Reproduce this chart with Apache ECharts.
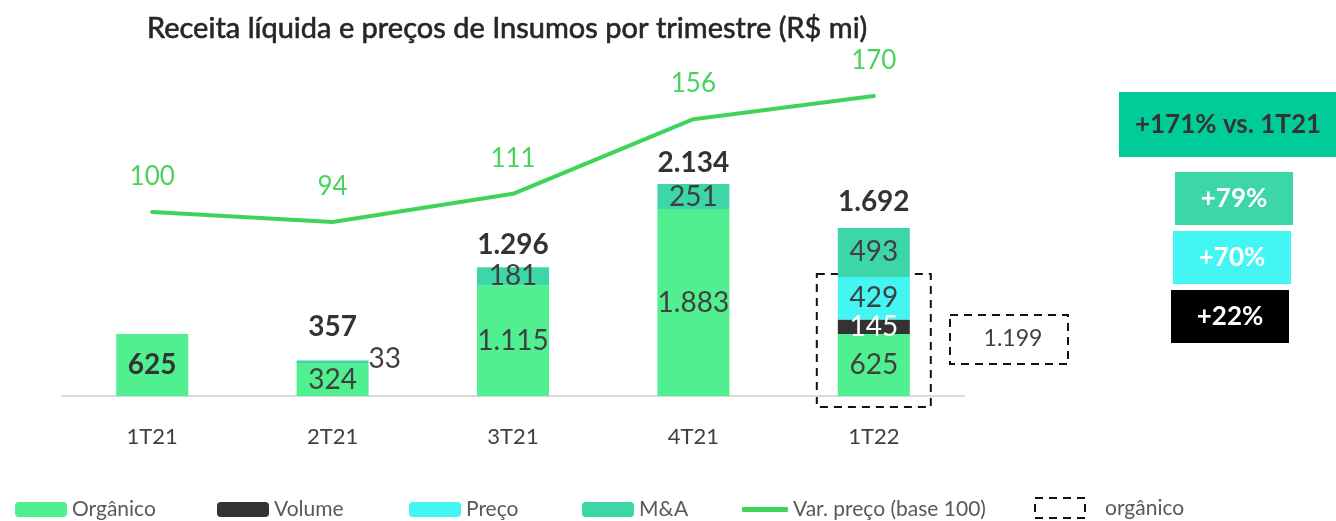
<!DOCTYPE html>
<html>
<head>
<meta charset="utf-8">
<script src="https://cdn.jsdelivr.net/npm/echarts@6/dist/echarts.min.js"></script>
<style>
  html, body { margin: 0; padding: 0; background: #fff; }
  #main { width: 1336px; height: 521px; }
</style>
</head>
<body>
<div id="main"></div>
<script>
const categories = ['1T21', '2T21', '3T21', '4T21', '1T22'];
const organico = [625, 324, 1115, 1883, 625];
const volume = [0, 0, 0, 0, 145];
const preco = [0, 0, 0, 0, 429];
const ma = [0, 33, 181, 251, 493];
const totais = [null, 357, 1296, 2134, 1692];
const varPreco = [100, 94, 111, 156, 170];
const organicoTotal = 1199;

const FONT = 'Lato, "Open Sans", sans-serif';
const C_ORG = '#50ef8f';
const C_VOL = '#333333';
const C_PRE = '#44f6f3';
const C_MA = '#3cd6a8';
const C_LINE = '#3fd35a';

const fmt = v => String(v).replace(/\B(?=(\d{3})+(?!\d))/g, '.');

const chart = echarts.init(document.getElementById('main'));

const segLabel = (color, extra) => Object.assign({
    show: true,
    position: 'inside',
    fontFamily: FONT,
    fontSize: 28,
    color: color || '#404040',
    formatter: p => p.value ? fmt(p.value) : ''
}, extra || {});

const orgData = organico.map((v, i) => i === 0
    ? { value: v, label: { fontWeight: 'bold', color: '#333' } }
    : v);
const maData = ma.map((v, i) => i === 1
    ? { value: v, label: { position: 'right', distance: 0, offset: [0, -3] } }
    : v);
const totalDist = [0, 20, 8, 7, 12];
const totalData = totais.map((v, i) => ({ value: v, label: { distance: totalDist[i] } }));

const legendText = { fontFamily: FONT, fontSize: 21, color: '#595959' };
const mkLegend = (name, left, w, h, icon) => ({
    data: [icon ? { name: name, icon: icon } : name],
    left: left, top: 494, itemWidth: w || 52, itemHeight: h || 15,
    itemGap: 0, textStyle: legendText, selectedMode: false
});

const option = {
    animation: false,
    title: {
        text: 'Receita líquida e preços de Insumos por trimestre (R$ mi)',
        left: 142, top: 9,
        textStyle: { fontFamily: FONT, fontSize: 29, fontWeight: 'normal', color: '#262626',
                     textBorderColor: '#262626', textBorderWidth: 0.6 }
    },
    legend: [
        mkLegend('Orgânico', 10),
        mkLegend('Volume', 212),
        mkLegend('Preço', 404),
        mkLegend('M&A', 577),
        mkLegend('Var. preço (base 100)', 737, 46, 5, 'roundRect')
    ],
    grid: { left: 62, right: 372, top: 96, bottom: 125, containLabel: false },
    xAxis: {
        type: 'category',
        data: categories,
        axisLine: { lineStyle: { color: '#d9d9d9', width: 2 } },
        axisTick: { show: false },
        axisLabel: { margin: 30, fontFamily: FONT, fontSize: 22, color: '#404040' }
    },
    yAxis: [
        { type: 'value', min: 0, max: 3020, show: false },
        { type: 'value', min: -11, max: 170, show: false }
    ],
    series: [
        { name: 'Orgânico', type: 'bar', stack: 'r', barWidth: 72, itemStyle: { color: C_ORG },
          label: segLabel(), data: orgData },
        { name: 'Volume', type: 'bar', stack: 'r', barWidth: 72, itemStyle: { color: C_VOL },
          label: segLabel('#ffffff'), data: volume },
        { name: 'Preço', type: 'bar', stack: 'r', barWidth: 72, itemStyle: { color: C_PRE },
          label: segLabel(), data: preco },
        { name: 'M&A', type: 'bar', stack: 'r', barWidth: 72, itemStyle: { color: C_MA },
          label: segLabel(), data: maData },
        { name: 'Total', type: 'scatter', symbolSize: 0, silent: true, itemStyle: { opacity: 1 },
          label: { show: true, position: 'top', fontFamily: FONT, fontSize: 28, fontWeight: 'bold',
                   color: '#333', opacity: 1, formatter: p => p.value == null ? '' : fmt(p.value) },
          data: totalData },
        { name: 'Var. preço (base 100)', type: 'line', yAxisIndex: 1,
          symbol: 'circle', symbolSize: 1, showSymbol: true,
          lineStyle: { color: C_LINE, width: 4, cap: 'round' }, itemStyle: { color: C_LINE },
          label: { show: true, position: 'top', distance: 22, fontFamily: FONT, fontSize: 26, color: '#47d35c' },
          data: varPreco }
    ]
};
chart.setOption(option);

// annotations derived from the scales
const topPx = chart.convertToPixel({ xAxisIndex: 0, yAxisIndex: 0 }, ['1T22', organicoTotal]);
const basePx = chart.convertToPixel({ xAxisIndex: 0, yAxisIndex: 0 }, ['1T22', 0]);
const dash = { stroke: '#111', lineWidth: 2, lineDash: [8, 6], fill: 'transparent' };
const boxText = (cx, cy, text, color, size, weight) => ({
    type: 'text', x: cx, y: cy,
    style: { text: text, fill: color, font: (weight || 'bold') + ' ' + size + 'px ' + FONT,
             align: 'center', verticalAlign: 'middle' }
});
chart.setOption({
    graphic: [
        { type: 'rect', shape: { x: topPx[0] - 57, y: topPx[1] - 3, width: 114, height: basePx[1] - topPx[1] + 14 }, style: dash },
        { type: 'rect', shape: { x: 950, y: 315, width: 118, height: 49 }, style: dash },
        boxText(1013, 339, fmt(organicoTotal), '#404040', 23, 'normal'),
        { type: 'rect', shape: { x: 1119, y: 92, width: 217, height: 65 }, style: { fill: '#00cc99' } },
        boxText(1228, 125, '+171% vs. 1T21', '#333', 26),
        { type: 'rect', shape: { x: 1175, y: 172, width: 118, height: 53 }, style: { fill: C_MA } },
        boxText(1234, 199, '+79%', '#fff', 26),
        { type: 'rect', shape: { x: 1173, y: 231, width: 118, height: 53 }, style: { fill: C_PRE } },
        boxText(1232, 258, '+70%', '#fff', 26),
        { type: 'rect', shape: { x: 1171, y: 290, width: 118, height: 53 }, style: { fill: '#000' } },
        boxText(1230, 317, '+22%', '#fff', 26),
        // legend entry for the dashed organic box
        { type: 'rect', shape: { x: 1035, y: 498, width: 50, height: 20 }, style: dash },
        { type: 'text', x: 1105, y: 508, style: { text: 'orgânico', fill: '#595959', font: '21px ' + FONT, verticalAlign: 'middle' } }
    ]
});

window.addEventListener('resize', () => {
    chart.resize();
});
</script>
</body>
</html>
